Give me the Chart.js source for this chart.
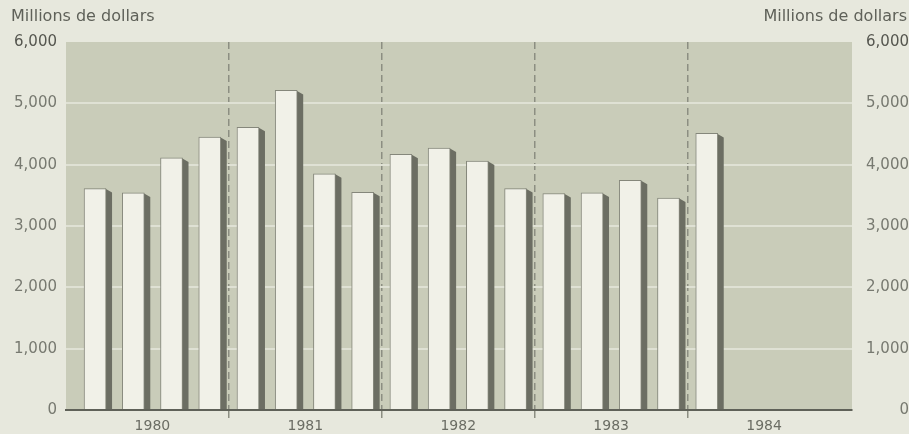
<!DOCTYPE html>
<html><head><meta charset="utf-8">
<script src="https://cdn.jsdelivr.net/npm/chart.js@4/dist/chart.umd.min.js"></script>
<style>
html,body{margin:0;padding:0;background:#e7e8dd;}
#wrap{width:909px;height:434px;position:relative;}
</style>
</head><body>
<div id="wrap"><canvas id="c"></canvas></div>
<script>
// ---- data ----
const quarters = ['1980 T1','1980 T2','1980 T3','1980 T4',
                  '1981 T1','1981 T2','1981 T3','1981 T4',
                  '1982 T1','1982 T2','1982 T3','1982 T4',
                  '1983 T1','1983 T2','1983 T3','1983 T4',
                  '1984 T1'];
const values = [3610, 3540, 4110, 4450,
                4610, 5210, 3850, 3550,
                4170, 4270, 4060, 3610,
                3530, 3540, 3745, 3455,
                4510];
const years = ['1980','1981','1982','1983','1984'];
const yTickLabels = ['0','1,000','2,000','3,000','4,000','5,000','6,000'];
const axisTitle = 'Millions de dollars';

// ---- styles ----
const FONT = 'DejaVu Sans';
const tickFont = {family: FONT, size: 15};
const mc = document.createElement('canvas').getContext('2d');
mc.font = '15px "' + FONT + '"';
const widest = Math.max(...yTickLabels.map(t => mc.measureText(t).width));

const panelPlugin = {
  id: 'panel',
  beforeDraw(chart) {
    const {ctx, chartArea: a} = chart;
    ctx.save();
    ctx.fillStyle = '#c9ccb9';
    ctx.fillRect(a.left, a.top, a.right - a.left, a.bottom - a.top);
    ctx.restore();
  },
  afterDraw(chart) {
    const {ctx} = chart;
    ctx.save();
    ctx.fillStyle = '#5f6159';
    ctx.font = '16px "' + FONT + '"';
    ctx.textBaseline = 'middle';
    ctx.textAlign = 'left';
    ctx.fillText(axisTitle, 11, 17);
    ctx.textAlign = 'right';
    ctx.fillText(axisTitle, 907, 17);
    ctx.restore();
  }
};

// 3D extrusion drawn behind each bar, from the bar elements' own geometry
const shadowPlugin = {
  id: 'barShadow',
  beforeDatasetsDraw(chart) {
    const {ctx, chartArea: a} = chart;
    const dx = 7, dy = 4;
    ctx.save();
    ctx.beginPath();
    ctx.rect(a.left, a.top, a.right - a.left, a.bottom - a.top);
    ctx.clip();
    ctx.fillStyle = '#6c6e63';
    chart.getDatasetMeta(0).data.forEach(bar => {
      const {x, y, base, width} = bar.getProps(['x', 'y', 'base', 'width'], true);
      const l = x - width / 2, r = x + width / 2;
      ctx.beginPath();
      ctx.moveTo(r - 1, y);
      ctx.lineTo(r - 1 + dx, y + dy);
      ctx.lineTo(r - 1 + dx, base);
      ctx.lineTo(l + dx, base);
      ctx.lineTo(r - 1, base);
      ctx.closePath();
      ctx.fill();
    });
    ctx.restore();
  }
};

const isBoundary = v => v % 4 === 0;

new Chart(document.getElementById('c'), {
  type: 'bar',
  data: {
    labels: quarters,
    datasets: [{
      label: axisTitle,
      data: values.map((v, i) => ({x: i + 0.5, y: v})),
      backgroundColor: '#f1f1e8',
      borderColor: '#85877b',
      borderWidth: 1,
      borderSkipped: 'bottom',
      barThickness: 22
    }]
  },
  options: {
    responsive: true,
    maintainAspectRatio: false,
    animation: false,
    layout: {padding: {top: 42, left: 0, right: 0, bottom: 0}},
    plugins: {legend: {display: false}, tooltip: {enabled: false}, title: {display: false}},
    scales: {
      x: {
        type: 'linear',
        offset: false,
        min: -0.26,
        max: 20.3,
        afterBuildTicks(scale) {
          const t = [];
          for (let v = 2; v <= 18; v += 2) t.push({value: v});
          scale.ticks = t;
        },
        afterFit(scale) { scale.height = 24; },
        ticks: {
          autoSkip: false, maxRotation: 0, padding: 0,
          color: '#6b6d64',
          font: {family: FONT, size: 14},
          callback: v => (v % 4 === 2 ? years[(v - 2) / 4] : '')
        },
        grid: {
          offset: false,
          drawTicks: true,
          tickLength: 8,
          lineWidth: 1.5,
          color: ctx => (ctx.tick && isBoundary(ctx.tick.value) ? '#8c8e82' : 'rgba(0,0,0,0)'),
          tickColor: ctx => (ctx.tick && isBoundary(ctx.tick.value) ? '#8c8e82' : 'rgba(0,0,0,0)')
        },
        border: {display: true, color: '#5f6158', width: 2, dash: [7, 4], z: 1}
      },
      y: {
        position: 'left',
        min: 0, max: 6000,
        afterFit(scale) { scale.width = 66; },
        ticks: {
          stepSize: 1000, padding: 9,
          font: tickFont,
          color: ctx => (ctx.tick && ctx.tick.value === 6000 ? '#55564f' : '#777970'),
          callback: v => yTickLabels[v / 1000]
        },
        grid: {
          drawTicks: false,
          lineWidth: 2,
          color: ctx => (ctx.tick && (ctx.tick.value === 0 || ctx.tick.value === 6000) ? 'rgba(0,0,0,0)' : '#dfe1d4')
        },
        border: {display: false}
      },
      y1: {
        position: 'right',
        min: 0, max: 6000,
        afterFit(scale) { scale.width = 57; },
        ticks: {
          stepSize: 1000,
          padding: 55 - widest,
          crossAlign: 'far',
          font: tickFont,
          color: ctx => (ctx.tick && ctx.tick.value === 6000 ? '#55564f' : '#777970'),
          callback: v => yTickLabels[v / 1000]
        },
        grid: {display: false, drawTicks: false},
        border: {display: false}
      }
    }
  },
  plugins: [panelPlugin, shadowPlugin]
});
</script>
</body></html>
